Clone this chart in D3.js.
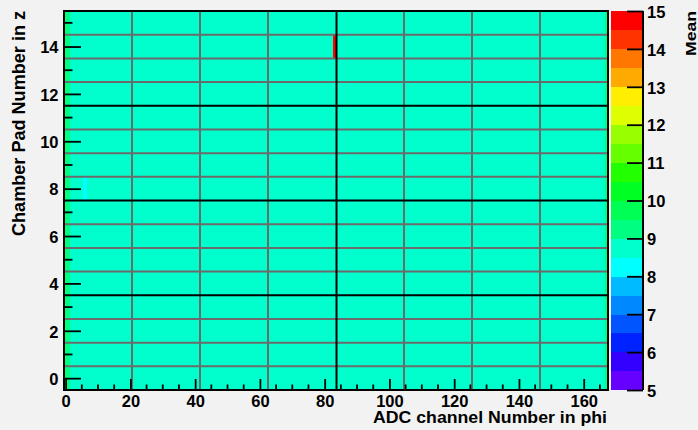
<!DOCTYPE html>
<html>
<head>
<meta charset="utf-8">
<script src="https://cdn.jsdelivr.net/npm/d3@7"></script>
<style>
  html, body { margin: 0; padding: 0; background: #f2f2f2; }
  svg { display: block; }
  text { font-family: "Liberation Sans", Arial, Helvetica, sans-serif; font-weight: bold; fill: #000; }
</style>
</head>
<body>
<svg id="chart" width="698" height="430"></svg>
<script>
// ---------------- data ----------------
// Mean value per ADC channel (phi), same for every pad row except the outliers below
const channelMean = [
  9.2, 9.2, 8.75, 8.75, 8.75, 8.75, 8.75, 8.75, 8.75, 8.75, 8.75, 8.75, 8.75, 8.75, 8.75, 8.75, 8.75, 8.75, 8.75, 8.75, 8.75,
  8.75, 8.75, 8.75, 8.75, 8.75, 8.75, 8.75, 8.75, 8.75, 8.75, 8.75, 8.75, 8.75, 8.75, 8.75, 8.75, 8.75, 8.75, 8.75, 8.75, 8.75,
  8.75, 8.75, 8.75, 8.75, 8.75, 8.75, 8.75, 8.75, 8.75, 8.75, 8.75, 8.75, 8.75, 8.75, 8.75, 8.75, 8.75, 8.75, 8.75, 8.75, 8.75,
  8.75, 8.75, 8.75, 8.75, 8.75, 8.75, 8.75, 8.75, 8.75, 8.75, 8.75, 8.75, 8.75, 8.75, 8.75, 8.75, 8.75, 8.75, 8.75, 8.75, 8.75,
  8.75, 8.75, 8.75, 8.75, 8.75, 8.75, 8.75, 8.75, 8.75, 8.75, 8.75, 8.75, 8.75, 8.75, 8.75, 8.75, 8.75, 8.75, 8.75, 8.75, 8.75,
  8.75, 8.75, 8.75, 8.75, 8.75, 8.75, 8.75, 8.75, 8.75, 8.75, 8.75, 8.75, 8.75, 8.75, 8.75, 8.75, 8.75, 8.75, 8.75, 8.75, 8.75,
  8.75, 8.75, 8.75, 8.75, 8.75, 8.75, 8.75, 8.75, 8.75, 8.75, 8.75, 8.75, 8.75, 8.75, 8.75, 8.75, 8.75, 8.75, 8.75, 8.75, 8.75,
  8.75, 8.75, 8.75, 8.75, 8.75, 8.75, 8.75, 8.75, 8.75, 8.75, 8.75, 8.75, 8.75, 8.75, 8.75, 8.75, 8.75, 8.75, 8.75, 8.75, 9.2
];
const padRows = [0, 1, 2, 3, 4, 5, 6, 7, 8, 9, 10, 11, 12, 13, 14, 15];
const outlierChannel = [6, 83];
const outlierPad = [8, 14];
const outlierMean = [8.3, 14.8];

const xTicksMajor = [0, 20, 40, 60, 80, 100, 120, 140, 160];
const yTicksMajor = [0, 2, 4, 6, 8, 10, 12, 14];
const zTicks = [5, 6, 7, 8, 9, 10, 11, 12, 13, 14, 15];
const chamberBoundaryX = [20.5, 41.5, 62.5, 83.5, 104.5, 125.5, 146.5];
const chamberBoundaryXBlack = [83.5];
const padBoundaryY = [0.5, 1.5, 2.5, 3.5, 4.5, 5.5, 6.5, 7.5, 8.5, 9.5, 10.5, 11.5, 12.5, 13.5, 14.5];
const padBoundaryYBlack = [3.5, 7.5, 11.5];
const palette = ["#6600ff","#3300ff","#0022ff","#0055ff","#0088ff","#00bbff","#00ffff","#00ffcc","#00ff80","#00ff55",
                 "#00ff22","#22ff00","#66ff00","#99ff00","#ddff00","#ffee00","#ffaa00","#ff7700","#ff3300","#ff0000"];

const xTitle = "ADC channel Number in phi";
const yTitle = "Chamber Pad Number in z";
const zTitle = "Mean";

// ---------------- layout ----------------
const svg = d3.select("#chart");
const W = 698, H = 430;
const L = 64, R = 608, T = 11, B = 390;
const cbL = 611, cbR = 643;

svg.append("rect").attr("width", W).attr("height", H).attr("fill", "#f2f2f2");

const x = d3.scaleLinear().domain([-0.5, 167.5]).range([L, R]);
const y = d3.scaleLinear().domain([-0.5, 15.5]).range([B, T]);
const z = d3.scaleLinear().domain([5, 15]).range([B, T]);
const color = d3.scaleQuantize().domain([5, 15]).range(palette);

// cells
const cells = [];
padRows.forEach(p => {
  channelMean.forEach((m, ch) => {
    let v = m;
    outlierChannel.forEach((oc, i) => { if (oc === ch && outlierPad[i] === p) v = outlierMean[i]; });
    cells.push({ ch, p, v });
  });
});
svg.append("g").selectAll("rect").data(cells).join("rect")
  .attr("x", d => x(d.ch - 0.5))
  .attr("y", d => y(d.p + 0.5))
  .attr("width", d => x(d.ch + 0.5) - x(d.ch - 0.5) + 0.3)
  .attr("height", d => y(d.p - 0.5) - y(d.p + 0.5) + 0.3)
  .attr("fill", d => color(d.v))
  .attr("shape-rendering", "crispEdges");

// boundary lines
const grid = svg.append("g");
grid.selectAll("line.gx").data(chamberBoundaryX.filter(v => !chamberBoundaryXBlack.includes(v))).join("line")
  .attr("x1", d => x(d)).attr("x2", d => x(d)).attr("y1", T).attr("y2", B)
  .attr("stroke", "#6b6b6b").attr("stroke-width", 2);
grid.selectAll("line.gy").data(padBoundaryY.filter(v => !padBoundaryYBlack.includes(v))).join("line")
  .attr("y1", d => y(d)).attr("y2", d => y(d)).attr("x1", L).attr("x2", R)
  .attr("stroke", "#6b6b6b").attr("stroke-width", 2);
grid.selectAll("line.bx").data(chamberBoundaryXBlack).join("line")
  .attr("x1", d => x(d) + 0.5).attr("x2", d => x(d) + 0.5).attr("y1", T).attr("y2", B)
  .attr("stroke", "#000").attr("stroke-width", 2);
grid.selectAll("line.by").data(padBoundaryYBlack).join("line")
  .attr("y1", d => y(d)).attr("y2", d => y(d)).attr("x1", L).attr("x2", R)
  .attr("stroke", "#000").attr("stroke-width", 2);

// frame
svg.append("rect").attr("x", L).attr("y", T).attr("width", R - L).attr("height", B - T)
  .attr("fill", "none").attr("stroke", "#000").attr("stroke-width", 2);

// x axis (ticks pointing inward)
const xAxis = d3.axisBottom(x).tickValues(xTicksMajor).tickFormat(d3.format("d")).tickSize(-11).tickPadding(16);
const gx = svg.append("g").attr("transform", `translate(0,${B})`).call(xAxis);
const xMinor = d3.range(0, 168, 5).filter(v => v % 20 !== 0);
gx.selectAll("line.minor").data(xMinor).join("line").attr("class", "minor")
  .attr("x1", d => x(d)).attr("x2", d => x(d)).attr("y1", 0).attr("y2", -5.5)
  .attr("stroke", "#000").attr("stroke-width", 1.8);

// y axis
const yAxis = d3.axisLeft(y).tickValues(yTicksMajor).tickFormat(d3.format("d")).tickSize(-17).tickPadding(6);
const gy = svg.append("g").attr("transform", `translate(${L},0)`).call(yAxis);
const yMinor = d3.range(1, 16, 2);
gy.selectAll("line.minor").data(yMinor).join("line").attr("class", "minor")
  .attr("y1", d => y(d)).attr("y2", d => y(d)).attr("x1", 0).attr("x2", 8.5)
  .attr("stroke", "#000").attr("stroke-width", 1.8);

[gx, gy].forEach(g => {
  g.select(".domain").remove();
  g.selectAll(".tick line").attr("stroke", "#000").attr("stroke-width", 1.8);
  g.selectAll("text").attr("font-size", 16.5).attr("font-family", "Liberation Sans, Arial, sans-serif").attr("font-weight", "bold").attr("fill", "#000");
});
gx.selectAll(".tick text").attr("dy", null).attr("y", 16.5);
gy.selectAll(".tick text").attr("dy", "0.38em").attr("x", -5.5);

// colour bar
const bands = palette.map((c, i) => ({ c, lo: 5 + i * 0.5, hi: 5.5 + i * 0.5 }));
svg.append("g").selectAll("rect").data(bands).join("rect")
  .attr("x", cbL).attr("width", cbR - cbL)
  .attr("y", d => z(d.hi)).attr("height", d => z(d.lo) - z(d.hi) + 0.3)
  .attr("fill", d => d.c).attr("shape-rendering", "crispEdges");
const zAxis = d3.axisRight(z).tickValues(zTicks).tickFormat(d3.format("d")).tickSize(-16).tickPadding(5);
const gz = svg.append("g").attr("transform", `translate(${cbR},0)`).call(zAxis);
gz.select(".domain").remove();
gz.append("line").attr("x1", 0).attr("x2", 0).attr("y1", T).attr("y2", B).attr("stroke", "#000").attr("stroke-width", 2);
gz.selectAll(".tick line").attr("stroke", "#000").attr("stroke-width", 1.8);
gz.selectAll(".tick text").attr("font-size", 16.5).attr("font-family", "Liberation Sans, Arial, sans-serif")
  .attr("font-weight", "bold").attr("fill", "#000").attr("x", 4).attr("dy", "0.38em");

// titles
svg.append("text").attr("x", 607).attr("y", 423).attr("text-anchor", "end")
  .attr("font-size", 17).attr("textLength", 234).attr("lengthAdjust", "spacingAndGlyphs").text(xTitle);
svg.append("text").attr("transform", "translate(24.5,11) rotate(-90)").attr("text-anchor", "end")
  .attr("font-size", 17.5).attr("textLength", 225).attr("lengthAdjust", "spacingAndGlyphs").text(yTitle);
svg.append("text").attr("transform", "translate(695.5,11) rotate(-90)").attr("text-anchor", "end")
  .attr("font-size", 15).attr("textLength", 45).attr("lengthAdjust", "spacingAndGlyphs").text(zTitle);
</script>
</body>
</html>
